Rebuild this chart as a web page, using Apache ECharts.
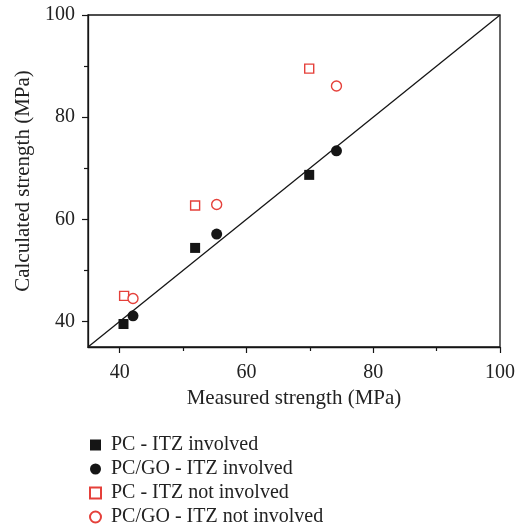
<!DOCTYPE html>
<html>
<head>
<meta charset="utf-8">
<script src="https://cdn.jsdelivr.net/npm/echarts@6/dist/echarts.min.js"></script>
<style>
  html, body { margin: 0; padding: 0; background: #fff; }
  #chart { width: 518px; height: 531px; }
</style>
</head>
<body>
<div id="chart"></div>
<script>
// 测得强度 vs 计算强度 (MPa)
const pcItz = [[40.6, 39.5], [51.9, 54.4], [69.9, 68.7]];
const goItz = [[42.1, 41.1], [55.3, 57.1], [74.2, 73.4]];
const pcNoItz = [[40.7, 45.0], [51.9, 62.7], [69.9, 89.5]];
const goNoItz = [[42.1, 44.5], [55.3, 62.9], [74.2, 86.1]];
const diagonal = [[35, 35], [100, 100]];
const majorTicks = [40, 60, 80, 100];
const minorTicks = [50, 70, 90];
const seriesNames = ['PC - ITZ involved', 'PC/GO - ITZ involved', 'PC - ITZ not involved', 'PC/GO - ITZ not involved'];

const FONT = '"Liberation Serif", "DejaVu Serif", serif';
const BLACK = '#151515';
const RED = '#e5403a';

const chart = echarts.init(document.getElementById('chart'));

// 主刻度轴 + 次刻度轴叠在一起
function axisPair(dim) {
  const main = {
    type: 'value', min: 35, max: 100,
    position: dim === 'x' ? 'bottom' : 'left',
    axisLine: { show: true, onZero: false, lineStyle: { color: BLACK, width: 1.3 } },
    axisTick: { show: true, customValues: majorTicks, length: 6, lineStyle: { color: BLACK, width: 1.2 } },
    axisLabel: { customValues: majorTicks, color: '#222', fontFamily: FONT, fontSize: 20, margin: dim === 'x' ? 16 : 13 },
    splitLine: { show: false },
    name: dim === 'x' ? 'Measured strength (MPa)' : 'Calculated strength (MPa)',
    nameLocation: 'middle',
    nameGap: dim === 'x' ? 40 : 52,
    nameTextStyle: { color: '#222', fontFamily: FONT, fontSize: 21 }
  };
  const minor = {
    type: 'value', min: 35, max: 100,
    position: dim === 'x' ? 'bottom' : 'left',
    axisLine: { show: false, onZero: false },
    axisTick: { show: true, customValues: minorTicks, length: 4, lineStyle: { color: BLACK, width: 1.2 } },
    axisLabel: { show: false },
    splitLine: { show: false }
  };
  return [main, minor];
}

const option = {
  backgroundColor: '#fff',
  animation: false,
  grid: {
    left: 88, right: 18, top: 15, bottom: 184,
    show: true, borderColor: BLACK, borderWidth: 1.3
  },
  xAxis: axisPair('x'),
  yAxis: axisPair('y'),
  legend: {
    orient: 'vertical',
    left: 84, top: 430, height: 110,
    itemGap: 4,
    itemWidth: 11, itemHeight: 11,
    data: seriesNames,
    textStyle: { color: '#222', fontFamily: FONT, fontSize: 20, padding: [0, 0, 0, 5] }
  },
  series: [
    {
      type: 'line', data: diagonal, symbol: 'none', silent: true,
      lineStyle: { color: BLACK, width: 1.3 }
    },
    {
      name: seriesNames[0], type: 'scatter', data: pcItz,
      symbol: 'rect', symbolSize: 10,
      itemStyle: { color: BLACK, opacity: 1 }
    },
    {
      name: seriesNames[1], type: 'scatter', data: goItz,
      symbol: 'circle', symbolSize: 11,
      itemStyle: { color: BLACK, opacity: 1 }
    },
    {
      name: seriesNames[2], type: 'scatter', data: pcNoItz,
      symbol: 'rect', symbolSize: 9,
      itemStyle: { color: '#fff', borderColor: RED, borderWidth: 1.4, opacity: 1 }
    },
    {
      name: seriesNames[3], type: 'scatter', data: goNoItz,
      symbol: 'circle', symbolSize: 10,
      itemStyle: { color: '#fff', borderColor: RED, borderWidth: 1.4, opacity: 1 }
    }
  ]
};

chart.setOption(option);
</script>
</body>
</html>
